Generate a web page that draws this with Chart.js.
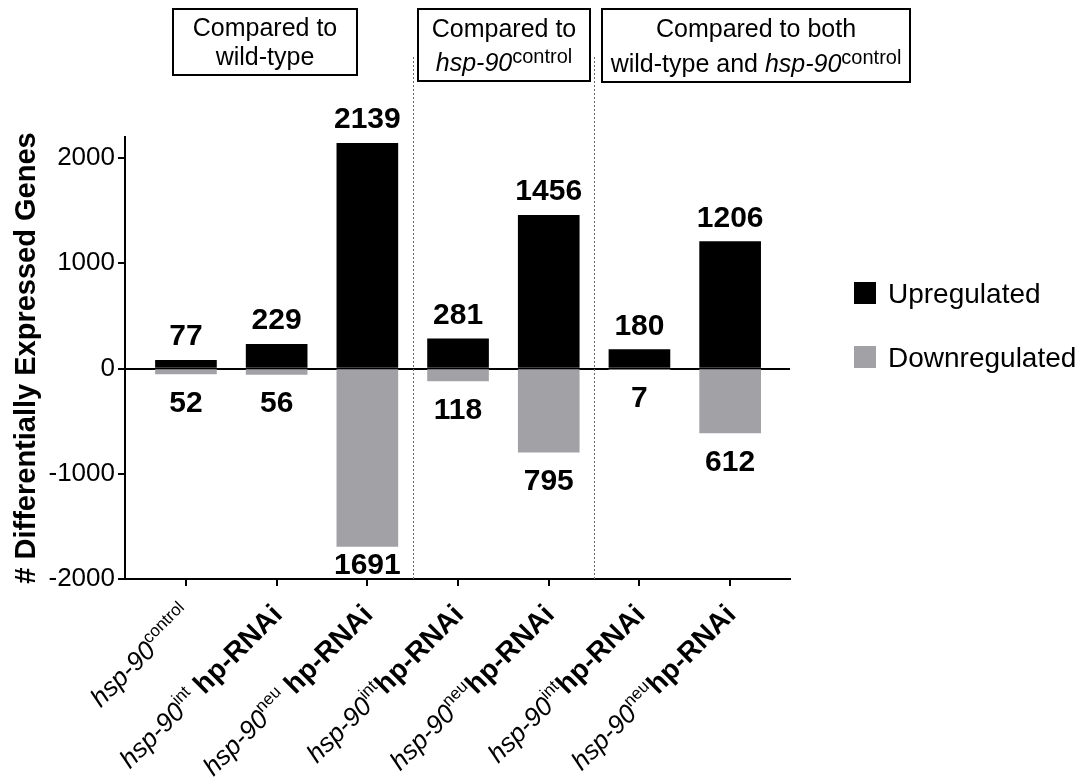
<!DOCTYPE html>
<html>
<head>
<meta charset="utf-8">
<title>Differentially expressed genes</title>
<script src="https://cdn.jsdelivr.net/npm/chart.js@4/dist/chart.umd.min.js"></script>
<style>
  html, body { margin: 0; padding: 0; background: #fff; }
  #wrap { width: 1079px; height: 781px; }
</style>
</head>
<body>
<div id="wrap"><canvas id="chart" width="1079" height="781"></canvas></div>
<script>
// Strain labels: italic gene name, superscript allele, bold RNAi suffix
const strainBase = ['hsp-90', 'hsp-90', 'hsp-90', 'hsp-90', 'hsp-90', 'hsp-90', 'hsp-90'];
const strainSup = ['control', 'int', 'neu', 'int', 'neu', 'int', 'neu'];
const strainSuffix = ['', ' hp-RNAi', ' hp-RNAi', 'hp-RNAi', 'hp-RNAi', 'hp-RNAi', 'hp-RNAi'];

// Gene counts per comparison
const upregulated = [77, 229, 2139, 281, 1456, 180, 1206];
const downregulated = [52, 56, 1691, 118, 795, 7, 612];

const yTicks = [-2000, -1000, 0, 1000, 2000];
const seriesNames = ['Upregulated', 'Downregulated'];
const seriesColors = ['#000000', '#a2a1a6'];

// Comparison group headers (boxes above the plot) and group boundaries
const groupLine1 = ['Compared to', 'Compared to', 'Compared to both'];
const groupLine2 = [
  [{t: 'wild-type', s: 'n'}],
  [{t: 'hsp-90', s: 'i'}, {t: 'control', s: 'sup'}],
  [{t: 'wild-type and ', s: 'n'}, {t: 'hsp-90', s: 'i'}, {t: 'control', s: 'sup'}]
];
const groupBoundaries = [2.5, 4.5];

const FONT = '"Liberation Sans", Arial, Helvetica, sans-serif';

function fontFor(style, size) {
  if (style === 'i') return `italic ${size}px ${FONT}`;
  if (style === 'b') return `bold ${size}px ${FONT}`;
  return `${size}px ${FONT}`;
}

function measureRuns(ctx, runs, sizes) {
  let w = 0;
  runs.forEach(r => {
    ctx.font = fontFor(r.s === 'sup' ? 'n' : r.s, sizes[r.s]);
    w += ctx.measureText(r.t).width;
  });
  return w;
}

// Draw styled runs left-aligned from x on baseline y; superscripts raised
function drawRuns(ctx, runs, x, y, sizes, supRaise) {
  let cx = x;
  runs.forEach(r => {
    ctx.font = fontFor(r.s === 'sup' ? 'n' : r.s, sizes[r.s]);
    ctx.fillText(r.t, cx, r.s === 'sup' ? y - supRaise : y);
    cx += ctx.measureText(r.t).width;
  });
}

const annotations = {
  id: 'annotations',
  afterDatasetsDraw(chart) {
    const {ctx, chartArea, scales: {x}} = chart;
    ctx.save();
    ctx.fillStyle = '#000';

    // value labels above the up bars and below the down bars
    ctx.font = fontFor('b', 30);
    ctx.textAlign = 'center';
    ctx.textBaseline = 'alphabetic';
    const upMeta = chart.getDatasetMeta(0);
    const downMeta = chart.getDatasetMeta(1);
    upregulated.forEach((v, i) => {
      const bar = upMeta.data[i];
      ctx.fillText(String(v), bar.x, bar.y - 15);
    });
    downregulated.forEach((v, i) => {
      const bar = downMeta.data[i];
      const base = Math.min(bar.y + 16 + 22, chartArea.bottom - 5);
      ctx.fillText(String(v), bar.x, base);
    });

    // dashed separators between comparison groups
    ctx.strokeStyle = '#666';
    ctx.lineWidth = 1;
    ctx.setLineDash([2, 2]);
    groupBoundaries.forEach(b => {
      const px = Math.round(x.getPixelForValue(b)) + 0.5;
      ctx.beginPath();
      ctx.moveTo(px, 57);
      ctx.lineTo(px, chartArea.bottom);
      ctx.stroke();
    });
    ctx.setLineDash([]);
    ctx.restore();
  },
  afterDraw(chart) {
    const {ctx, scales: {x}} = chart;
    ctx.save();
    ctx.fillStyle = '#000';
    ctx.strokeStyle = '#000';
    ctx.textBaseline = 'alphabetic';

    // rotated category labels, right end anchored below each tick
    const labelSizes = {i: 26, sup: 17, b: 28};
    strainBase.forEach((base, i) => {
      const runs = [{t: base, s: 'i'}, {t: strainSup[i], s: 'sup'}];
      if (strainSuffix[i]) runs.push({t: strainSuffix[i], s: 'b'});
      const w = measureRuns(ctx, runs, labelSizes);
      const px = x.getPixelForValue(i);
      ctx.save();
      ctx.translate(px + 7, 616);
      ctx.rotate(-Math.PI / 4);
      ctx.textAlign = 'left';
      drawRuns(ctx, runs, -w, 0, labelSizes, 11);
      ctx.restore();
    });

    // comparison group boxes
    const boxes = [
      {l: 173, t: 9, r: 357, b: 75, y1: 36, y2: 65},
      {l: 418, t: 9, r: 590, b: 81, y1: 37, y2: 71},
      {l: 602, t: 9, r: 910, b: 82, y1: 37, y2: 72}
    ];
    const boxSizes = {n: 25, i: 25, sup: 20};
    ctx.lineWidth = 2;
    boxes.forEach((bx, i) => {
      ctx.strokeRect(bx.l, bx.t, bx.r - bx.l, bx.b - bx.t);
      const cx = (bx.l + bx.r) / 2;
      ctx.textAlign = 'center';
      ctx.font = fontFor('n', 25);
      ctx.fillText(groupLine1[i], cx, bx.y1);
      ctx.textAlign = 'left';
      const w = measureRuns(ctx, groupLine2[i], boxSizes);
      drawRuns(ctx, groupLine2[i], cx - w / 2, bx.y2, boxSizes, 8);
    });

    // legend
    const lx = 854;
    const rows = [282, 346];
    ctx.textAlign = 'left';
    ctx.font = fontFor('n', 28);
    seriesNames.forEach((name, i) => {
      ctx.fillStyle = seriesColors[i];
      ctx.fillRect(lx, rows[i], 22, 22);
      ctx.fillStyle = '#000';
      ctx.fillText(name, lx + 34, rows[i] + 21);
    });
    ctx.restore();
  }
};

new Chart(document.getElementById('chart'), {
  type: 'bar',
  data: {
    datasets: [
      {
        label: seriesNames[0],
        data: upregulated.map((v, i) => ({x: i, y: v})),
        backgroundColor: seriesColors[0],
        grouped: false,
        barThickness: 61
      },
      {
        label: seriesNames[1],
        data: downregulated.map((v, i) => ({x: i, y: -v})),
        backgroundColor: seriesColors[1],
        grouped: false,
        barThickness: 61
      }
    ]
  },
  options: {
    responsive: false,
    animation: false,
    layout: {padding: {top: 137, right: 289, left: 0, bottom: 0}},
    plugins: {legend: {display: false}, tooltip: {enabled: false}},
    scales: {
      x: {
        type: 'linear',
        offset: false,
        min: -0.672,
        max: 6.66,
        afterBuildTicks: s => { s.ticks = upregulated.map((_, i) => ({value: i})); },
        afterFit: s => { s.height = 202; },
        ticks: {display: false},
        grid: {
          offset: false,
          drawOnChartArea: false,
          drawTicks: true,
          tickLength: 7,
          tickColor: '#000',
          lineWidth: 2
        },
        border: {display: true, color: '#000', width: 2}
      },
      y: {
        min: -2000,
        max: 2200,
        afterBuildTicks: s => { s.ticks = yTicks.map(v => ({value: v})); },
        afterFit: s => { s.width = 125; },
        ticks: {
          color: '#000',
          padding: 3,
          font: {family: FONT, size: 26},
          callback: v => String(v)
        },
        grid: {
          drawOnChartArea: true,
          drawTicks: true,
          tickLength: 7,
          tickColor: '#000',
          lineWidth: 2,
          color: c => (c.tick && c.tick.value === 0) ? '#000' : 'rgba(0,0,0,0)'
        },
        border: {display: true, color: '#000', width: 2},
        title: {
          display: true,
          text: '# Differentially Expressed Genes',
          color: '#000',
          font: {family: FONT, size: 29, weight: 'bold'},
          padding: {top: 10, bottom: 0}
        }
      }
    }
  },
  plugins: [annotations]
});
</script>
</body>
</html>
